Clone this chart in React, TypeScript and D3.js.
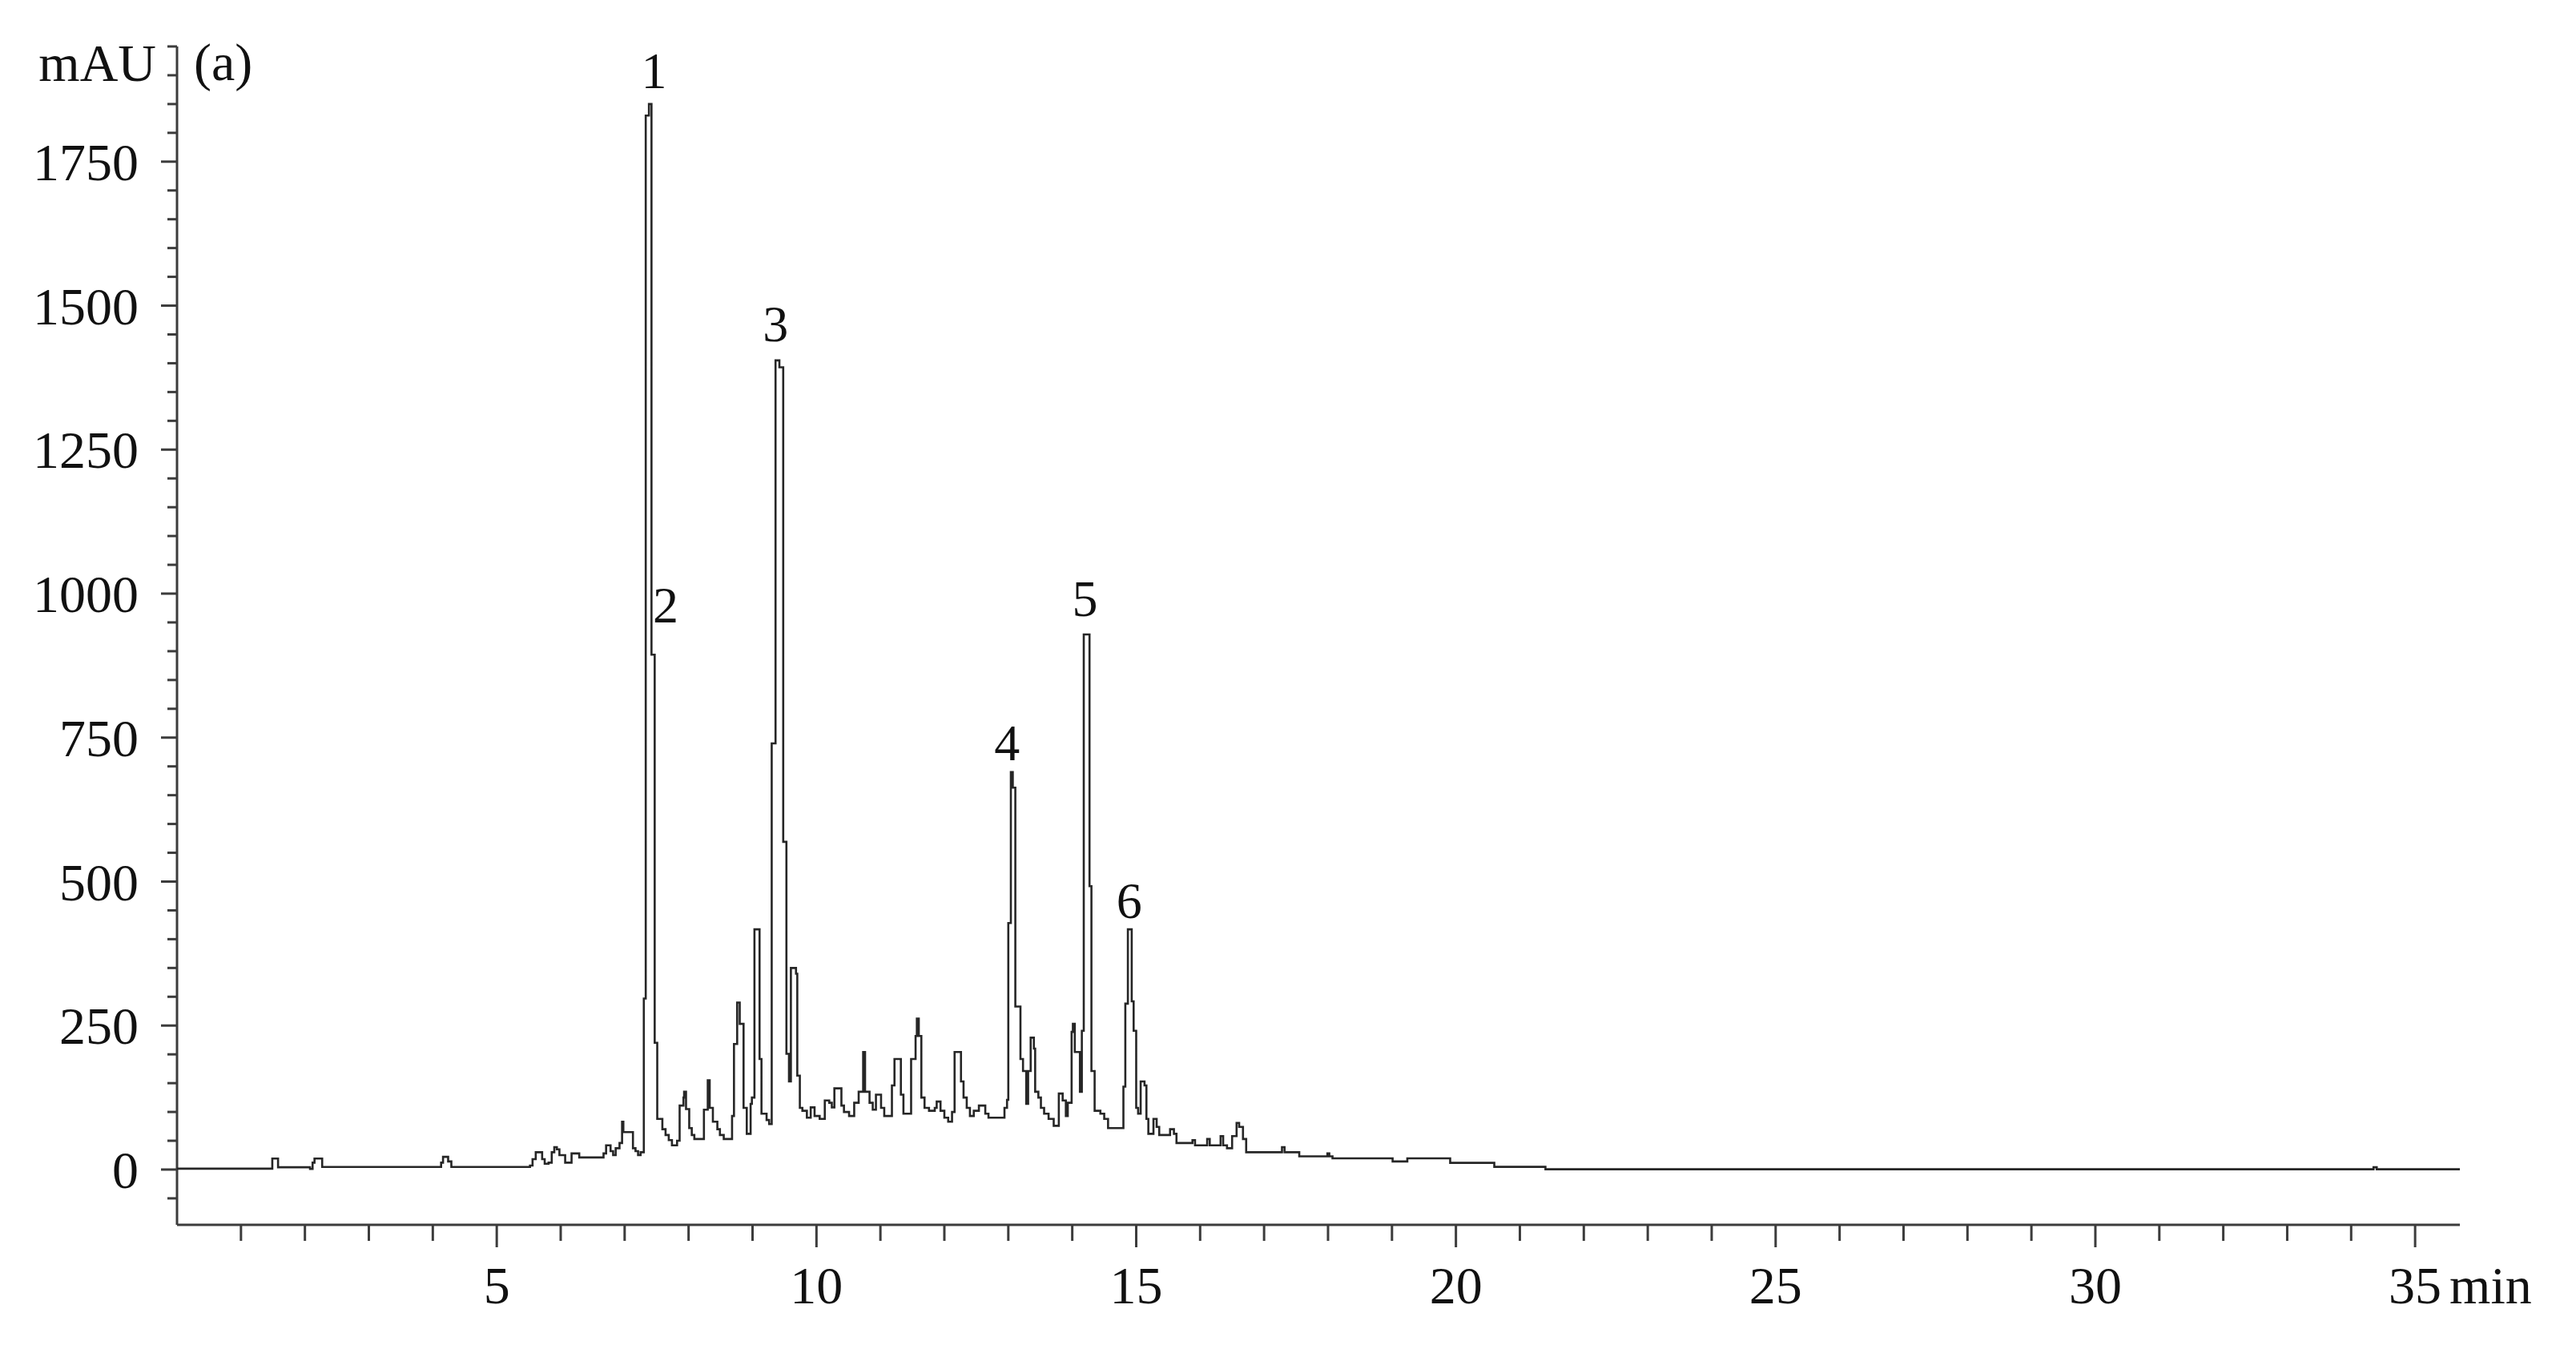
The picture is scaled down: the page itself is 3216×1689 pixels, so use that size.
import React from "react";
import * as d3 from "d3";

// Retention time (min) where each level starts (step trace), and absorbance (mAU)
const rtMin = [
  0, 1.49, 1.58, 2.08, 2.12, 2.15, 2.27, 4.13, 4.16, 4.24, 4.29,
  5.52, 5.56, 5.61, 5.71, 5.75, 5.81, 5.86, 5.9, 5.94, 5.98, 6.07, 6.17, 6.29,
  6.67, 6.71, 6.78, 6.82, 6.86, 6.92, 6.96, 6.98, 7.13, 7.17, 7.21, 7.25,
  7.3, 7.33, 7.38, 7.42, 7.47, 7.51, 7.59, 7.64, 7.69, 7.74, 7.82, 7.86, 7.92, 7.93, 7.96,
  8.01, 8.05, 8.09, 8.24, 8.3, 8.33, 8.38, 8.45, 8.49, 8.55, 8.68, 8.71, 8.76, 8.8, 8.86,
  8.91, 8.97, 8.99, 9.03, 9.11, 9.14, 9.22, 9.26, 9.3, 9.36, 9.42, 9.48, 9.53, 9.57, 9.6,
  9.68, 9.7, 9.74, 9.78, 9.85, 9.91, 9.97, 10.05, 10.13, 10.2, 10.24, 10.28, 10.39, 10.43,
  10.51, 10.59, 10.66, 10.73, 10.76, 10.83, 10.88, 10.93, 11.01, 11.06, 11.18, 11.22, 11.32,
  11.36, 11.48, 11.55, 11.57, 11.6, 11.64, 11.69, 11.76, 11.85, 11.88, 11.94, 12.0, 12.06,
  12.12, 12.16, 12.26, 12.3, 12.35, 12.4, 12.46, 12.54, 12.64, 12.69, 12.94, 12.98,
  13.0, 13.04, 13.07, 13.11, 13.19, 13.23, 13.28, 13.31, 13.35, 13.4, 13.42, 13.47, 13.51,
  13.56, 13.63, 13.71, 13.79, 13.85, 13.9, 13.93, 13.99, 14.01, 14.04, 14.12, 14.15,
  14.18, 14.27, 14.3, 14.35, 14.44, 14.5, 14.56, 14.8, 14.83, 14.87, 14.93, 14.96, 15.0,
  15.03, 15.07, 15.13, 15.16, 15.19, 15.27, 15.32, 15.36, 15.53, 15.59, 15.63, 15.88, 15.92,
  16.11, 16.15, 16.32, 16.36, 16.42, 16.5, 16.57, 16.61, 16.67, 16.72, 17.28, 17.32, 17.55,
  17.99, 18.02, 18.07, 19.01, 19.24, 19.91, 20.6, 21.4, 34.35, 34.4, 35.7,
];
const mAU = [
  1.5, 19, 4, 1, 12, 19, 4.5, 12, 22, 14, 4.5,
  7, 18, 30, 18, 10, 12, 30, 39, 35, 25, 12, 28, 21,
  28, 42, 32, 25, 37, 46, 83, 65, 37, 32, 25, 30,
  297, 1830, 1850, 894, 220, 88, 70, 60, 51, 42, 50, 111, 125, 135, 105,
  72, 60, 53, 104, 155, 107, 83, 70, 60, 53, 93, 218, 290, 253, 107,
  62, 114, 125, 417, 192, 97, 86, 79, 740, 1405, 1393, 569, 201, 153, 350,
  340, 163, 107, 102, 90, 108, 93, 88, 120, 116, 108, 141, 111, 100,
  93, 116, 135, 204, 135, 116, 104, 130, 107, 93, 146, 192, 130,
  97, 192, 232, 262, 232, 125, 107, 102, 107, 118, 102, 90, 83,
  100, 204, 153, 125, 107, 93, 102, 111, 97, 90, 107, 121,
  428, 690, 663, 283, 192, 171, 114, 171, 229, 210, 135, 125, 107,
  97, 88, 76, 132, 120, 93, 116, 239, 253, 204, 135, 241,
  929, 492, 171, 102, 97, 88, 72, 144, 288, 417, 292, 241, 107,
  97, 153, 146, 88, 62, 88, 74, 60, 70, 62, 46, 51, 42,
  53, 42, 58, 42, 37, 58, 81, 74, 53, 30, 39, 30, 23,
  28, 23, 19.5, 14, 19.5, 11.6, 4.6, 0.5, 4, 0.5, 0.5,
];

const xMajorTicks = [5, 10, 15, 20, 25, 30, 35];
const yMajorTicks = [0, 250, 500, 750, 1000, 1250, 1500, 1750];

const peakNames = ["1", "2", "3", "4", "5", "6"];
const peakLabelRt = [7.46, 7.64, 9.36, 12.98, 14.2, 14.89];
const peakLabelMAU = [1878, 950, 1438, 711, 961, 437];

const W = 3216;
const H = 1689;
const FONT = "'Liberation Serif', 'Times New Roman', serif";

export default function App() {
  const x = d3.scaleLinear().domain([0, 35.7]).range([221, 3071]);
  const y = d3.scaleLinear().domain([-96, 1950]).range([1529, 58]);

  const pts: [number, number][] = rtMin.map((t, i) => [t, mAU[i]]);
  const line = d3
    .line<[number, number]>()
    .x((d) => x(d[0]))
    .y((d) => y(d[1]))
    .curve(d3.curveStepAfter);

  const xMinor = d3.range(1, 36).filter((t) => t % 5 !== 0);
  const yMinor = d3.range(-50, 1951, 50).filter((v) => v % 250 !== 0);

  const axisColor = "#3c3c3c";
  const x0 = x(0);
  const yBottom = y(-96);

  return (
    <svg
      width={W}
      height={H}
      style={{ position: "absolute", left: 0, top: 0, background: "#fff" }}
      fontFamily={FONT}
    >
      <rect x={0} y={0} width={W} height={H} fill="#fff" />
      {/* y axis */}
      <line x1={x0} x2={x0} y1={y(1950)} y2={yBottom} stroke={axisColor} strokeWidth={3} />
      {yMinor.map((v) => (
        <line key={"ym" + v} x1={x0 - 12} x2={x0} y1={y(v)} y2={y(v)} stroke={axisColor} strokeWidth={3} />
      ))}
      {yMajorTicks.map((v) => (
        <g key={"yM" + v}>
          <line x1={x0 - 20} x2={x0} y1={y(v)} y2={y(v)} stroke={axisColor} strokeWidth={3} />
          <text x={x0 - 48} y={y(v)} dy="0.35em" textAnchor="end" fontSize={66} fill="#111">
            {v}
          </text>
        </g>
      ))}
      {/* x axis */}
      <line x1={x0} x2={x(35.7)} y1={yBottom} y2={yBottom} stroke={axisColor} strokeWidth={3} />
      {xMinor.map((t) => (
        <line key={"xm" + t} x1={x(t)} x2={x(t)} y1={yBottom} y2={yBottom + 20} stroke={axisColor} strokeWidth={3} />
      ))}
      {xMajorTicks.map((t) => (
        <g key={"xM" + t}>
          <line x1={x(t)} x2={x(t)} y1={yBottom} y2={yBottom + 28} stroke={axisColor} strokeWidth={3} />
          <text x={x(t)} y={1627} textAnchor="middle" fontSize={66} fill="#111">
            {t}
          </text>
        </g>
      ))}
      <text x={x(35) + 43} y={1627} textAnchor="start" fontSize={66} fill="#111">
        min
      </text>
      <text x={195} y={101} textAnchor="end" fontSize={66} fill="#111">
        mAU
      </text>
      <text x={242} y={100} textAnchor="start" fontSize={66} fill="#111">
        (a)
      </text>
      {/* trace */}
      <path d={line(pts) || ""} fill="none" stroke="#262626" strokeWidth={2.6} strokeLinejoin="miter" />
      {/* peak labels */}
      {peakNames.map((n, i) => (
        <text key={"p" + n} x={x(peakLabelRt[i])} y={y(peakLabelMAU[i])} textAnchor="middle" fontSize={64} fill="#111">
          {n}
        </text>
      ))}
    </svg>
  );
}
